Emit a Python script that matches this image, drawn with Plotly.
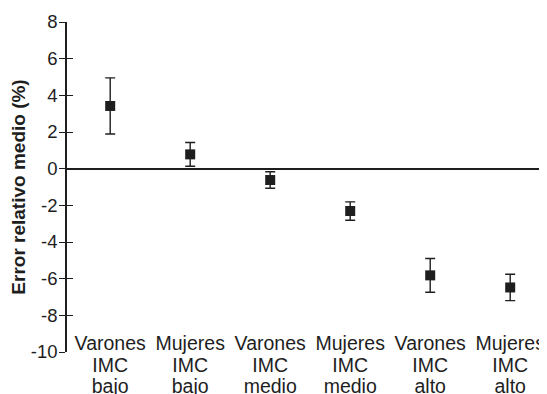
import plotly.graph_objects as go

label_line1 = ["Varones", "Mujeres", "Varones", "Mujeres", "Varones", "Mujeres"]
label_line2 = ["IMC", "IMC", "IMC", "IMC", "IMC", "IMC"]
label_line3 = ["bajo", "bajo", "medio", "medio", "alto", "alto"]
means = [3.42, 0.78, -0.62, -2.31, -5.82, -6.48]
errors = [1.53, 0.65, 0.45, 0.5, 0.92, 0.72]
ytick_vals = [8, 6, 4, 2, 0, -2, -4, -6, -8, -10]
ytick_text = ["8", "6", "4", "2", "0", "-2", "-4", "-6", "-8", "-10"]

ink = "#1e1e1e"
font = "Liberation Sans, Arial, sans-serif"
xs = list(range(len(label_line1)))
xrange = [-0.54, 5.46]

# page body has an 8px margin; size the figure so it fills the window exactly
W, H = 539, 386
TOP = 14
plot_h = H - TOP


def pos(screen_y):
    # convert a window pixel row to a fraction of the plot area
    return (H - (screen_y - 8)) / plot_h


fig = go.Figure()
fig.add_trace(go.Scatter(
    x=xs, y=means, mode="markers",
    marker=dict(symbol="square", size=10, color=ink),
    error_y=dict(type="data", array=errors, color=ink, thickness=1.4, width=5),
    showlegend=False, hoverinfo="skip",
))
fig.add_trace(go.Scatter(x=[0], y=[0], yaxis="y2", mode="markers", opacity=0,
                         showlegend=False, hoverinfo="skip"))
for ax in ("x2", "x3", "x4"):
    fig.add_trace(go.Scatter(x=[0], y=[0], xaxis=ax, mode="markers", opacity=0,
                             showlegend=False, hoverinfo="skip"))

label_axis = dict(range=xrange, tickvals=xs, showline=False, showgrid=False, zeroline=False,
                  ticks="", anchor="free", overlaying="x", automargin=False,
                  tickfont=dict(size=19.5, color=ink))

fig.update_layout(
    width=W, height=H,
    margin=dict(l=59, r=0, t=TOP, b=0),
    paper_bgcolor="white", plot_bgcolor="white",
    font=dict(family=font, size=18, color=ink),
    xaxis=dict(range=xrange, showticklabels=False, showline=False, showgrid=False,
               zeroline=False, ticks="", automargin=False),
    xaxis2=dict(label_axis, ticktext=label_line1, position=pos(329)),
    xaxis3=dict(label_axis, ticktext=label_line2, position=pos(351)),
    xaxis4=dict(label_axis, ticktext=label_line3, position=pos(372)),
    yaxis=dict(range=[-10, 8], domain=[pos(352), 1], tickvals=ytick_vals, ticktext=ytick_text,
               showline=True, linecolor=ink, linewidth=1.5,
               ticks="outside", ticklen=6, tickwidth=1.4, tickcolor=ink, showgrid=False,
               zeroline=True, zerolinecolor=ink, zerolinewidth=1.5,
               tickfont=dict(size=18.5), ticklabelstandoff=-2, automargin=False,
               title=dict(text="<b>Error relativo medio (%)</b>", font=dict(size=19), standoff=4)),
    yaxis2=dict(range=[-10, 8], domain=[pos(352), 1], tickvals=ytick_vals, overlaying="y",
                side="left", anchor="x", showticklabels=False, ticks="inside", ticklen=6,
                tickwidth=1.4, tickcolor=ink, showline=False, showgrid=False, zeroline=False,
                automargin=False),
)
fig.write_html("out.html")
